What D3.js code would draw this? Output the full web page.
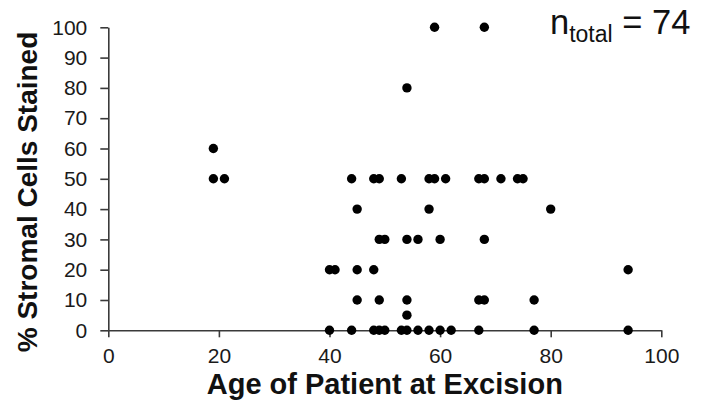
<!DOCTYPE html>
<html>
<head>
<meta charset="utf-8">
<script src="https://cdn.jsdelivr.net/npm/d3@7"></script>
<style>
  body { margin: 0; background: #fff; }
  svg { display: block; font-family: Arial, 'Liberation Sans', sans-serif; }
  .axis path, .axis line { stroke: #3a3a3a; stroke-width: 1.6; }
  .axis text { font-size: 21px; fill: #1a1a1a; font-family: Arial, 'Liberation Sans', sans-serif; }
  .title { font-weight: bold; fill: #111; }
</style>
</head>
<body>
<svg id="chart" width="713" height="413"></svg>
<script>
  // age at excision / % stromal cells stained, one entry per visible dot
  const ages = [
    19, 19, 21,
    59, 68,
    54,
    44, 48, 49, 53, 58, 59, 61, 67, 68, 71, 74, 75,
    45, 58, 80,
    49, 50, 54, 56, 60, 68,
    40, 41, 45, 48, 94,
    45, 49, 54, 67, 68, 77,
    54,
    40, 44, 48, 49, 50, 53, 54, 56, 58, 60, 62, 67, 77, 94
  ];
  const stained = [
    60, 50, 50,
    100, 100,
    80,
    50, 50, 50, 50, 50, 50, 50, 50, 50, 50, 50, 50,
    40, 40, 40,
    30, 30, 30, 30, 30, 30,
    20, 20, 20, 20, 20,
    10, 10, 10, 10, 10, 10,
    5,
    0, 0, 0, 0, 0, 0, 0, 0, 0, 0, 0, 0, 0, 0
  ];
  const xTicks = [0, 20, 40, 60, 80, 100];
  const yTicks = [0, 10, 20, 30, 40, 50, 60, 70, 80, 90, 100];
  const nTotal = 74;

  const points = ages.map((a, i) => ({age: a, pct: stained[i]}));

  const svg = d3.select('#chart');
  const x = d3.scaleLinear().domain([0, 100]).range([108.3, 661.3]);
  const y = d3.scaleLinear().domain([0, 100]).range([330.3, 27.3]);

  svg.append('g')
    .attr('class', 'axis')
    .attr('transform', 'translate(0,' + y(0) + ')')
    .call(d3.axisBottom(x).tickValues(xTicks).tickSize(7).tickSizeOuter(0).tickPadding(11))
    .call(g => g.selectAll('text').attr('dy', '0.71em'));

  svg.append('g')
    .attr('class', 'axis')
    .attr('transform', 'translate(' + x(0) + ',0)')
    .call(d3.axisLeft(y).tickValues(yTicks).tickSize(8).tickSizeOuter(0).tickPadding(13));

  svg.selectAll('.axis .domain').attr('fill', 'none');

  svg.append('g')
    .selectAll('circle')
    .data(points)
    .enter()
    .append('circle')
    .attr('cx', d => x(d.age))
    .attr('cy', d => y(d.pct))
    .attr('r', 4.7)
    .attr('fill', '#000');

  svg.append('text')
    .attr('class', 'title')
    .attr('font-size', 29)
    .attr('text-anchor', 'middle')
    .attr('x', (x(0) + x(100)) / 2)
    .attr('y', 394)
    .text('Age of Patient at Excision');

  svg.append('text')
    .attr('class', 'title')
    .attr('font-size', 28)
    .attr('text-anchor', 'middle')
    .attr('transform', 'translate(37,192) rotate(-90)')
    .text('% Stromal Cells Stained');

  let n = svg.append('text')
    .attr('x', 550)
    .attr('y', 34)
    .attr('font-size', 34.5)
    .attr('fill', '#111');
  n.append('tspan').text('n');
  n.append('tspan').attr('font-size', 23).attr('dy', 8).text('total');
  n.append('tspan').attr('dy', -8).text(' = ' + nTotal);
</script>
</body>
</html>
